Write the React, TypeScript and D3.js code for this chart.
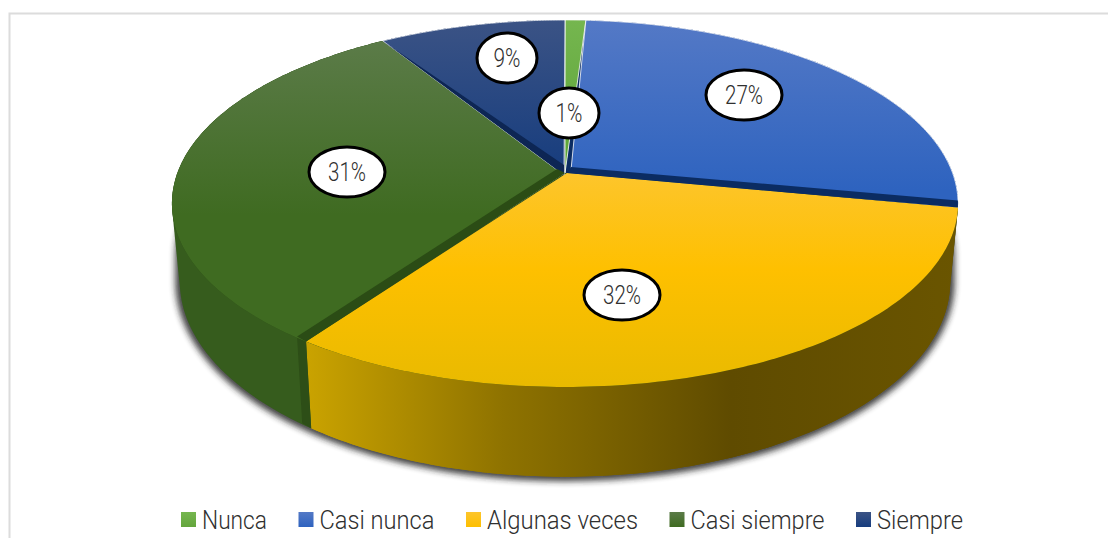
import React from "react";
import * as d3 from "d3";

const categories = ["Nunca", "Casi nunca", "Algunas veces", "Casi siempre", "Siempre"];
const values = [1, 27, 31.8, 31.2, 9];
const labels = ["1%", "27%", "32%", "31%", "9%"];
const topFrom = ["#75b64f", "#5479c6", "#fdc52c", "#5b7b48", "#3b5385"];
const topTo = ["#58a033", "#2e63bf", "#e9ba00", "#3f6b21", "#173d7e"];
const sideColors = ["#4e7d2f", "#234e99", "#a88600", "#365c1d", "#152f60"];
const swatchFrom = ["#75b64f", "#5479c6", "#fdc52c", "#5b7b48", "#3b5385"];
const swatchTo = ["#64a53c", "#2e63bf", "#fdbf00", "#3f6b21", "#173d7e"];
const wallColors = ["#0b2c62", "#0b2c62", "#2d4e17", "#2b4c15", "#0d2654"];

const W = 1108, H = 538;
const cx = 565, apexY = 173, radius = 387.6, persp = -0.166, slope = 149.7;
const sideScale = 0.98, sideY = 1.064, sideOff = 65;

const pie = d3.pie<number>().sort(null).startAngle(0).endAngle(2 * Math.PI);
const arcs = pie(values);

type P = [number, number];
const project = (t: number): P => {
  const x = Math.sin(t), y = -Math.cos(t), den = 1 + persp * y;
  return [cx + radius * x / den, (slope * y + apexY) / den];
};
const drop = (p: P): P => [cx + sideScale * (p[0] - cx), sideY * p[1] + sideOff];
const line = d3.line<P>();
const rim = (a: number, b: number): P[] => d3.range(0, 121).map(i => project(a + (b - a) * i / 120));
const hull = (pts: P[]) => line(d3.polygonHull(pts) as P[])! + "Z";

const apexShift: P[] = [[0, 0], [6, -3], [2, 0], [-8, -3], [-1, 2]];
const gradTop = [20, 20, 173, 42, 20];
const gradBottom = [190, 190, 387, 215, 170];

const legendWidths = [65, 115, 151, 134, 86];
const swatch = 15, swatchGap = 6, entryGap = 31.5, legendStart = 181;
const legendX = legendWidths.reduce<number[]>((acc, w, i) => {
  acc.push(i === 0 ? legendStart : acc[i - 1] + swatch + swatchGap + legendWidths[i - 1] + entryGap);
  return acc;
}, []);

const labelCenters: P[] = [[569, 113], [744, 95], [622, 295], [347, 172], [507, 58]];
const font = "Roboto, Lato, sans-serif";

export default function App() {
  const lowerDrop = rim(Math.PI * 0.5, Math.PI * 1.5).map(drop);
  const shadowPts: P[] = [...lowerDrop, ...lowerDrop.map(p => [p[0], p[1] - 25] as P)];
  const apexOf = (i: number): P => [cx + apexShift[i][0], apexY + apexShift[i][1]];
  const corner = project(arcs[3].startAngle), cornerDown = drop(corner);
  const blueEdge = project(arcs[1].endAngle);
  const navyEdge = project(arcs[4].startAngle);
  return (
    <svg width={W} height={H} viewBox={`0 0 ${W} ${H}`} style={{ position: "fixed", left: 0, top: 0, background: "#fff" }}>
      <defs>
        <filter id="blur" x="-10%" y="-10%" width="120%" height="120%"><feGaussianBlur stdDeviation="3" /></filter>
        <linearGradient id="ySide" gradientUnits="userSpaceOnUse" x1="306" x2="960" y1="0" y2="0">
          <stop offset="0" stopColor="#caa300" />
          <stop offset="0.3" stopColor="#8f7300" />
          <stop offset="0.65" stopColor="#5f4b00" />
          <stop offset="1" stopColor="#6a5500" />
        </linearGradient>
        {arcs.map((_, i) => (
          <linearGradient key={i} id={`top${i}`} gradientUnits="userSpaceOnUse" x1="0" x2="0" y1={gradTop[i]} y2={gradBottom[i]}>
            <stop offset="0" stopColor={topFrom[i]} />
            {i === 2 && <stop offset="0.45" stopColor="#fec000" />}
            <stop offset="1" stopColor={topTo[i]} />
          </linearGradient>
        ))}
        {categories.map((_, i) => (
          <linearGradient key={i} id={`sw${i}`} x1="0" x2="0" y1="0" y2="1">
            <stop offset="0" stopColor={swatchFrom[i]} />
            <stop offset="1" stopColor={swatchTo[i]} />
          </linearGradient>
        ))}
      </defs>

      <path d={`M9.5 ${H}V13.5H${W}`} fill="none" stroke="#dcdcdc" strokeWidth={2} />

      <path d={hull(shadowPts)} fill="#222" stroke="#222" strokeWidth={9} opacity={0.85} filter="url(#blur)" />

      {arcs.map((a, i) => {
        const top = rim(a.startAngle, a.endAngle);
        return <path key={i} d={hull([...top, ...top.map(drop)])} fill={i === 2 ? "url(#ySide)" : sideColors[i]} />;
      })}
      {/* yellow side again so it stays over the green hull's chord */}
      <path d={line([...rim(arcs[2].startAngle, arcs[2].endAngle), ...rim(arcs[2].startAngle, arcs[2].endAngle).map(drop).reverse()])! + "Z"} fill="url(#ySide)" />

      {/* end wall of the green slice beside the yellow corner */}
      <path d={line([[corner[0] - 9, corner[1] - 5], corner, cornerDown, [cornerDown[0] - 9, cornerDown[1] - 5]])! + "Z"} fill="#2d4e17" />

      {/* dark floor behind the shifted faces */}
      {arcs.map((a, i) => (
        <path key={i} d={line([[cx, apexY], ...rim(a.startAngle, a.endAngle)])! + "Z"} fill={wallColors[i]} />
      ))}

      {arcs.map((a, i) => (
        <path key={i} d={line([apexOf(i), ...rim(a.startAngle, a.endAngle)])! + "Z"}
          fill={`url(#top${i})`} stroke="#fff" strokeWidth={i === 0 || i === 1 || i === 4 ? 0.8 : 0} />
      ))}

      {/* dark inner walls along slice edges */}
      <path d={line([[apexOf(1)[0], apexOf(1)[1] - 3], [blueEdge[0], blueEdge[1] - 7], blueEdge, [cx + 2, apexY]])! + "Z"} fill={wallColors[1]} />
      <path d={line([navyEdge, [cx - 1, apexY + 2], [cx - 1, apexY - 8]])! + "Z"} fill={wallColors[4]} />
      <path d={line([[corner[0] - 9, corner[1] - 5], [cx - 8, apexY - 4], [cx, apexY], corner])! + "Z"} fill={wallColors[3]} />

      {labels.map((l, i) => (
        <g key={l}>
          <ellipse cx={labelCenters[i][0]} cy={labelCenters[i][1]} rx={l.length > 2 ? 38 : 30} ry={25} fill="#fff" stroke="#000" strokeWidth={3} />
          <text x={labelCenters[i][0]} y={labelCenters[i][1] + 9} textAnchor="middle" fontFamily={font} fontWeight={300} fontSize={25} fill="#303030"
            textLength={l.length > 2 ? 38 : 27} lengthAdjust="spacingAndGlyphs">{l}</text>
        </g>
      ))}

      {categories.map((c, i) => (
        <g key={c}>
          <rect x={legendX[i]} y={512} width={swatch} height={15} fill={`url(#sw${i})`} />
          <text x={legendX[i] + swatch + swatchGap} y={529} fontFamily={font} fontWeight={300} fontSize={26} fill="#303030"
            textLength={legendWidths[i]} lengthAdjust="spacingAndGlyphs">{c}</text>
        </g>
      ))}
    </svg>
  );
}
